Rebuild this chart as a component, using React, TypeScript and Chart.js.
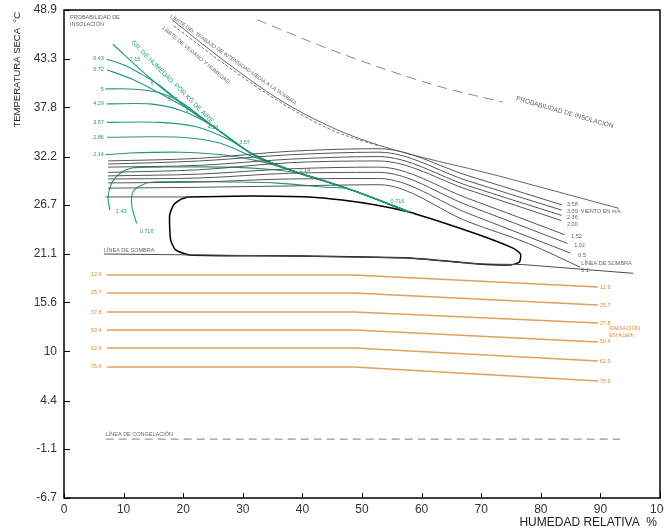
import React, { useEffect, useRef } from "react";
import { Chart, registerables } from "chart.js";

Chart.register(...registerables);

type P = [number, number];

const FONT = '"Liberation Sans", Arial, sans-serif';

// Axis ticks (humidity %, dry temperature °C)
const X_TICKS = [0, 10, 20, 30, 40, 50, 60, 70, 80, 90, 100];
const Y_TICKS = [-6.7, -1.1, 4.4, 10, 15.6, 21.1, 26.7, 32.2, 37.8, 43.3, 48.9];

// Wind lines (m/s)
const WIND_LABELS = ["3.58", "3.09  VIENTO EN m/s", "2.36", "2.00", "1.52", "1.02", "0.5"];
const wind358: P[] = [[7.4, 31.7], [22.7, 32.0], [37.8, 32.8], [52.8, 33.1], [67.9, 30.0], [83.5, 26.7]];
const wind309: P[] = [[7.4, 31.35], [22.7, 31.7], [37.8, 32.4], [52.8, 32.7], [67.9, 29.4], [83.5, 26.1]];
const wind236: P[] = [[7.4, 31.0], [22.7, 31.2], [37.8, 31.9], [52.8, 32.2], [67.9, 28.85], [83.5, 25.5]];
const wind200: P[] = [[7.4, 30.4], [22.7, 30.7], [37.8, 31.5], [52.8, 31.7], [67.9, 28.4], [83.5, 24.9]];
const wind152: P[] = [[7.4, 30.0], [22.7, 30.2], [37.8, 30.8], [52.8, 31.0], [67.9, 27.4], [84.0, 23.3]];
const wind102: P[] = [[7.4, 29.65], [22.7, 29.76], [37.8, 30.3], [52.8, 30.4], [67.9, 26.6], [84.5, 22.3]];
const wind05: P[] = [[7.4, 29.2], [22.7, 29.3], [37.8, 29.65], [52.8, 29.7], [67.9, 25.7], [85.0, 21.2]];
const wind01: P[] = [[7.4, 28.6], [22.7, 28.7], [37.8, 28.85], [52.8, 29.0], [67.9, 24.75], [77.9, 22.3], [86.6, 19.6]];
const comfortLead: P[] = [[7.0, 27.6], [20.7, 27.6]];

// Shade line and comfort zone
const sombra: P[] = [[6.7, 21.1], [21.1, 21.0], [39.5, 20.87], [57.9, 20.65], [69.7, 19.96], [76.9, 19.9], [95.5, 18.9]];
const comfort: P[] = [
  [20.74, 27.6], [31.1, 27.71], [41.14, 27.6], [46.66, 27.25], [52.34, 26.68], [57.86, 25.89],
  [61.2, 25.2], [69.73, 23.27], [75.25, 21.79], [76.59, 21.1], [76.42, 20.19], [74.92, 19.85],
  [69.73, 19.96], [57.86, 20.65], [39.46, 20.87], [21.07, 20.99], [18.73, 21.56], [17.89, 22.7],
  [17.73, 25.54], [18.39, 26.68], [19.73, 27.37], [20.74, 27.6],
];

// Upper limits
const limiteTrabajo: P[] = [[18.1, 47.8], [27.3, 42.9], [36.1, 38.7], [45.0, 35.5], [52.8, 33.5], [72.9, 30.0], [93.1, 26.3]];
const limiteVerano: P[] = [[18.4, 47.1], [27.6, 42.4], [36.5, 38.3], [45.0, 35.2], [52.8, 33.4]];
const insolacion: P[] = [[32.4, 47.8], [42.8, 44.9], [52.8, 42.4], [62.9, 40.2], [73.6, 38.4]];

// Moisture lines (g/kg)
const GREEN_LEFT = ["6.43", "5.72", "5", "4.29", "3.57", "2.86", "2.14"];
const GREEN_LEFT_T = [43.4, 42.1, 39.9, 38.2, 36.1, 34.4, 32.4];
const diag: P[] = [[8.2, 45.0], [14.4, 41.15], [21.1, 37.5], [26.1, 35.1], [31.1, 32.7], [35.3, 31.35], [40.0, 30.2], [47.8, 28.5], [57.9, 25.9]];
const tail = (fromX: number): P[] => diag.filter((p) => p[0] >= fromX);
const g643: P[] = [[7.2, 43.3], [10.2, 42.6], [12.7, 41.7], [16.05, 40.3], ...tail(21)];
const g572: P[] = [[7.2, 42.1], [11.5, 41.0], [15.55, 39.6], ...tail(21)];
const g5: P[] = [[6.9, 39.9], [11.0, 39.9], [15.55, 39.55], [19.4, 38.5], [23.6, 36.4], ...tail(26)];
const g429: P[] = [[7.2, 38.2], [14.4, 38.2], [19.4, 37.5], [24.9, 35.7], ...tail(31)];
const g357: P[] = [[7.2, 36.1], [16.05, 36.1], [22.2, 35.6], [27.8, 34.1], ...tail(31)];
const g286: P[] = [[7.2, 34.4], [19.4, 34.4], [26.1, 33.75], [31.6, 32.2], ...tail(35)];
const g214: P[] = [[6.9, 32.4], [11.0, 32.6], [19.4, 32.7], [26.6, 32.4], [33.3, 31.6], ...tail(40)];
const g143: P[] = [[7.7, 26.1], [7.4, 27.6], [8.0, 29.2], [9.4, 30.3], [11.4, 30.9], [16.05, 31.0], [28.1, 31.0], [35.3, 30.7], ...tail(40)];
const g0716: P[] = [[12.2, 24.6], [11.4, 26.5], [11.5, 28.05], [12.7, 28.85], [14.9, 29.3], [28.3, 29.3], [35.3, 29.2], [44.0, 28.7], ...tail(47)];

// Radiation lines (Kcal/h)
const RAD_LABELS = ["12.6", "25.7", "37.8", "50.4", "62.9", "75.6"];
const RAD_H = [7.2, 48.7, 89.6];
const RAD_START_T = [18.71, 16.66, 14.49, 12.44, 10.39, 8.23];
const RAD_END_T = [17.34, 15.29, 13.24, 11.08, 8.91, 6.63];

// Freezing line
const congelacion: P[] = [[7.0, 0], [93.3, 0]];

const GRAY = "#555";
const LGRAY = "#666";
const GREEN = "#22977d";
const ORANGE = "#e48b2c";
const ORANGE_LINE = "#e2a05a";

type Lbl = { t: string; x: number; y: number; c: string; s: number; a?: CanvasTextAlign; r?: number; b?: CanvasTextBaseline };

const WIND_TAG_POS: P[] = [[84.4, 26.7], [84.4, 25.95], [84.4, 25.25], [84.4, 24.45], [85.1, 23.05], [85.6, 22.1], [86.3, 20.95]];

const LABELS: Lbl[] = [
  { t: "PROBABILIDAD DE", x: 1.0, y: 48.1, c: LGRAY, s: 5.5 },
  { t: "INSOLACIÓN", x: 1.0, y: 47.25, c: LGRAY, s: 5.5 },
  { t: "LÍMITE DEL TRABAJO DE INTENSIDAD MEDIA A LA SOMBRA", x: 17.9, y: 48.2, c: LGRAY, s: 5.3, r: 35 },
  { t: "LÍMITE DE VERANO Y HUMEDAD", x: 16.6, y: 46.9, c: LGRAY, s: 5.5, r: 40 },
  { t: "PROBABILIDAD DE INSOLACIÓN", x: 75.9, y: 38.8, c: LGRAY, s: 6.5, r: 16 },
  { t: "LÍNEA DE SOMBRA", x: 6.7, y: 21.45, c: LGRAY, s: 5.5 },
  { t: "LÍNEA DE SOMBRA", x: 86.8, y: 20.05, c: LGRAY, s: 5.5 },
  { t: "0.1", x: 86.8, y: 19.25, c: LGRAY, s: 5.5 },
  { t: "LÍNEA DE CONGELACIÓN", x: 7.0, y: 0.55, c: LGRAY, s: 5.5 },
  { t: "1.43", x: 8.7, y: 25.9, c: GREEN, s: 5.5 },
  { t: "0.716", x: 12.7, y: 23.7, c: GREEN, s: 5.5 },
  { t: "7.15", x: 11.0, y: 43.3, c: GREEN, s: 5.5 },
  { t: "6", x: 14.5, y: 40.5, c: GREEN, s: 5.5 },
  { t: "5.72", x: 17.4, y: 38.65, c: GREEN, s: 5.5 },
  { t: "5", x: 20.4, y: 37.4, c: GREEN, s: 5.5 },
  { t: "4.29", x: 24.1, y: 35.5, c: GREEN, s: 5.5 },
  { t: "3.57", x: 29.4, y: 33.75, c: GREEN, s: 5.5 },
  { t: "2.14", x: 39.5, y: 30.6, c: GREEN, s: 5.5 },
  { t: "0.716", x: 54.8, y: 27.1, c: GREEN, s: 5.5 },
  { t: "GR. DE HUMEDAD  POR KG DE AIRE", x: 11.4, y: 45.3, c: GREEN, s: 6.5, r: 45 },
  { t: "RADIACIÓN", x: 91.5, y: 12.56, c: ORANGE, s: 5.5 },
  { t: "EN Kcal/h", x: 91.5, y: 11.76, c: ORANGE, s: 5.5 },
];

export default function App() {
  const ref = useRef<HTMLCanvasElement>(null);

  useEffect(() => {
    const canvas = ref.current!;
    const line = (pts: P[], color: string, width: number, opts: any = {}) => ({
      data: pts.map(([x, y]) => ({ x, y })),
      showLine: true,
      borderColor: color,
      backgroundColor: color,
      borderWidth: width,
      pointRadius: 0,
      pointHoverRadius: 0,
      fill: false,
      tension: 0,
      ...opts,
    });
    const mono = { cubicInterpolationMode: "monotone" };

    const datasets: any[] = [];
    [wind358, wind309, wind236, wind200, wind152, wind102, wind05, wind01].forEach((w) =>
      datasets.push(line(w, GRAY, 1, mono))
    );
    datasets.push(line(comfortLead, GRAY, 1));
    datasets.push(line(sombra, "#4a4a66", 1));
    datasets.push(line(limiteTrabajo, "#666", 1, mono));
    datasets.push(line(limiteVerano, "#777", 1, { ...mono, borderDash: [3, 2] }));
    datasets.push(line(insolacion, "#888", 1, { ...mono, borderDash: [10, 6] }));
    datasets.push(line(congelacion, "#999", 1.2, { borderDash: [8, 5] }));
    [diag, g643, g572, g5, g429, g357, g286, g214, g143, g0716].forEach((g) =>
      datasets.push(line(g, GREEN, 1.1, { tension: 0.3 }))
    );
    datasets.push(line(comfort, "#000", 1.5, { tension: 0.2 }));
    RAD_LABELS.forEach((_, i) => {
      const pts: P[] = [[RAD_H[0], RAD_START_T[i]], [RAD_H[1], RAD_START_T[i]], [RAD_H[2], RAD_END_T[i]]];
      datasets.push(line(pts, ORANGE_LINE, 1.6));
    });

    const decor = {
      id: "decor",
      afterDraw(chart: any) {
        const { ctx, chartArea: a } = chart;
        const xs = chart.scales.x;
        const ys = chart.scales.y;
        const txt = (l: Lbl) => {
          ctx.save();
          ctx.font = `${l.s}px ${FONT}`;
          ctx.fillStyle = l.c;
          ctx.textAlign = l.a || "left";
          ctx.textBaseline = l.b || "middle";
          ctx.translate(xs.getPixelForValue(l.x), ys.getPixelForValue(l.y));
          if (l.r) ctx.rotate((l.r * Math.PI) / 180);
          ctx.fillText(l.t, 0, 0);
          ctx.restore();
        };
        LABELS.forEach(txt);
        WIND_LABELS.forEach((t, i) => txt({ t, x: WIND_TAG_POS[i][0], y: WIND_TAG_POS[i][1], c: LGRAY, s: 5.5 }));
        GREEN_LEFT.forEach((t, i) => txt({ t, x: 6.7, y: GREEN_LEFT_T[i], c: GREEN, s: 5.5, a: "right" }));
        RAD_LABELS.forEach((t, i) => {
          txt({ t, x: 6.3, y: RAD_START_T[i], c: ORANGE, s: 5.5, a: "right" });
          txt({ t, x: 89.9, y: RAD_END_T[i], c: ORANGE, s: 5.5 });
        });

        ctx.save();
        ctx.strokeStyle = "#000";
        ctx.lineWidth = 1.5;
        ctx.strokeRect(a.left, a.top, a.right - a.left, a.bottom - a.top);
        ctx.lineWidth = 1;
        X_TICKS.forEach((v) => {
          const px = Math.round(xs.getPixelForValue(v)) + 0.5;
          ctx.beginPath();
          ctx.moveTo(px, a.bottom);
          ctx.lineTo(px, a.bottom - 5);
          ctx.stroke();
        });
        Y_TICKS.forEach((v) => {
          const py = Math.round(ys.getPixelForValue(v)) + 0.5;
          ctx.beginPath();
          ctx.moveTo(a.left, py);
          ctx.lineTo(a.left + 6, py);
          ctx.stroke();
        });
        ctx.fillStyle = "#222";
        ctx.font = `12px ${FONT}`;
        ctx.textAlign = "right";
        ctx.textBaseline = "middle";
        ctx.fillText("HUMEDAD RELATIVA  %", 657, 523);
        ctx.font = `9.5px ${FONT}`;
        ctx.translate(17, 12);
        ctx.rotate(-Math.PI / 2);
        ctx.fillText("TEMPERATURA SECA  °C", 0, 0);
        ctx.restore();
      },
    };

    const chart = new Chart(canvas, {
      type: "scatter",
      data: { datasets },
      options: {
        animation: false,
        responsive: false,
        events: [],
        layout: { padding: { top: 10, right: 4, left: 0, bottom: 0 } },
        plugins: { legend: { display: false }, tooltip: { enabled: false } },
        scales: {
          x: {
            type: "linear",
            min: 0,
            max: 100,
            afterBuildTicks: (s: any) => {
              s.ticks = X_TICKS.map((value) => ({ value }));
            },
            afterFit: (s: any) => {
              s.height = 33;
              s.paddingLeft = 0;
              s.paddingRight = 0;
            },
            ticks: {
              font: { family: FONT, size: 12 },
              color: "#333",
              padding: 4,
              maxRotation: 0,
              autoSkip: false,
              callback: (v: any) => String(v),
            },
            grid: { display: false, drawTicks: false },
            border: { display: false },
          },
          y: {
            type: "linear",
            min: -6.7,
            max: 48.9,
            afterBuildTicks: (s: any) => {
              s.ticks = Y_TICKS.map((value) => ({ value }));
            },
            afterFit: (s: any) => {
              s.width = 64;
              s.paddingTop = 0;
              s.paddingBottom = 0;
            },
            ticks: {
              font: { family: FONT, size: 12 },
              color: "#333",
              padding: 7,
              autoSkip: false,
              callback: (v: any) => String(v),
            },
            grid: { display: false, drawTicks: false },
            border: { display: false },
          },
        },
      } as any,
      plugins: [decor],
    });
    return () => chart.destroy();
  }, []);

  return (
    <div style={{ position: "absolute", left: 0, top: 0, width: 664, height: 531, background: "#fff" }}>
      <canvas ref={ref} width={664} height={531} style={{ display: "block" }} />
    </div>
  );
}
